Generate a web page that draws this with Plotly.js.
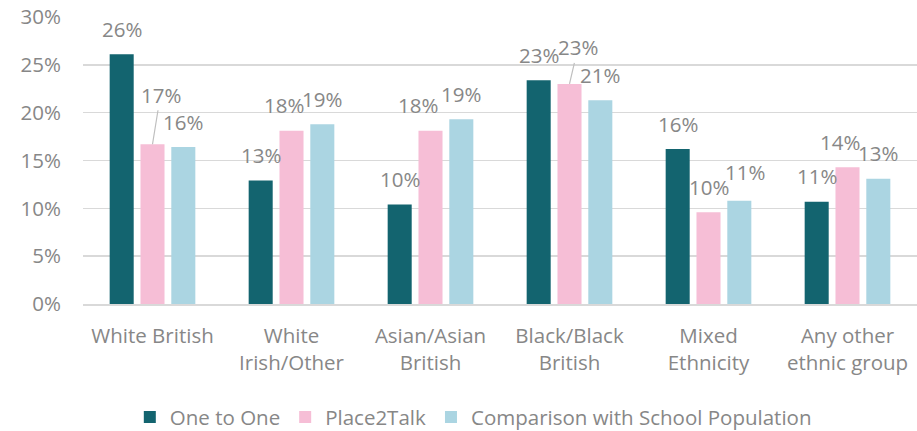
<!DOCTYPE html>
<html>
<head>
<meta charset="utf-8">
<script src="https://cdn.plot.ly/plotly-3.0.1.min.js"></script>
<style>html,body{margin:0;padding:0;background:#fff;}#chart{width:917px;height:431px;}</style>
</head>
<body>
<div id="chart"></div>
<script>
const categories = ['White British', 'White<br>Irish/Other', 'Asian/Asian<br>British', 'Black/Black<br>British', 'Mixed<br>Ethnicity', 'Any other<br>ethnic group'];
const seriesNames = ['One to One', 'Place2Talk', 'Comparison with School Population'];
const oneToOne = [26.1, 12.9, 10.4, 23.4, 16.2, 10.7];
const place2Talk = [16.7, 18.1, 18.1, 23.0, 9.6, 14.3];
const comparison = [16.4, 18.8, 19.3, 21.3, 10.8, 13.1];
const labelsOneToOne = ['26%', '13%', '10%', '23%', '16%', '11%'];
const labelsPlace2Talk = ['17%', '18%', '18%', '23%', '10%', '14%'];
const labelsComparison = ['16%', '19%', '19%', '21%', '11%', '13%'];

const colors = ['#13646f', '#f6bed6', '#abd5e2'];
const values = [oneToOne, place2Talk, comparison];
const labels = [labelsOneToOne, labelsPlace2Talk, labelsComparison];
const font = 'Open Sans, Noto Sans, sans-serif';
const gray = '#878787';
const fsize = 20.5;
const bargap = 0.335;

// label nudges (pixels) relative to default placement, keyed "series-category"
const nudge = {
  '1-0': {dx: 8, dy: -24, leader: true},
  '1-1': {dx: -8, dy: 0},
  '1-2': {dx: -13, dy: 0},
  '1-3': {dx: 8.5, dy: -11, leader: true},
  '2-4': {dx: 6, dy: -3},
  '1-5': {dx: -7.5, dy: 0}
};

const traces = values.map((v, s) => ({
  type: 'bar',
  name: seriesNames[s],
  x: categories,
  y: v,
  marker: {color: colors[s], line: {width: 0}},
  hoverinfo: 'x+y'
}));

const slot = (1 - bargap) / 3;
const annotations = [];
values.forEach((v, s) => {
  v.forEach((val, i) => {
    const n = nudge[s + '-' + i] || {dx: 0, dy: 0};
    annotations.push({
      x: i + (s - 1) * slot,
      y: val,
      xref: 'x', yref: 'y',
      text: labels[s][i],
      showarrow: true,
      arrowhead: 0,
      arrowwidth: 1.2,
      arrowcolor: n.leader ? '#bfbfbf' : 'rgba(0,0,0,0)',
      ax: n.dx,
      ay: -25.5 + n.dy,
      standoff: 0,
      font: {family: font, size: fsize, color: gray}
    });
  });
});

const layout = {
  width: 917,
  height: 431,
  margin: {l: 83, r: 0, t: 17, b: 127, autoexpand: false},
  paper_bgcolor: '#ffffff',
  plot_bgcolor: '#ffffff',
  barmode: 'group',
  bargap: bargap,
  bargroupgap: 0.22,
  showlegend: true,
  legend: {
    orientation: 'h',
    x: 0.468, xanchor: 'center',
    y: -0.394, yanchor: 'middle',
    font: {family: font, size: fsize, color: gray},
    itemwidth: 30,
    traceorder: 'normal'
  },
  xaxis: {
    type: 'category',
    showgrid: false,
    showline: true,
    linecolor: '#d9d9d9',
    linewidth: 1.5,
    ticks: '',
    tickfont: {family: font, size: fsize, color: gray},
    ticklabelstandoff: 13
  },
  yaxis: {
    range: [0, 30],
    dtick: 5,
    ticksuffix: '%',
    showgrid: true,
    gridcolor: '#d9d9d9',
    gridwidth: 1.5,
    zeroline: false,
    showline: false,
    ticks: '',
    tickfont: {family: font, size: fsize, color: gray},
    ticklabelstandoff: 21,
    fixedrange: true
  },
  annotations: annotations
};

Plotly.newPlot('chart', traces, layout, {displayModeBar: false, staticPlot: true});
</script>
</body>
</html>
